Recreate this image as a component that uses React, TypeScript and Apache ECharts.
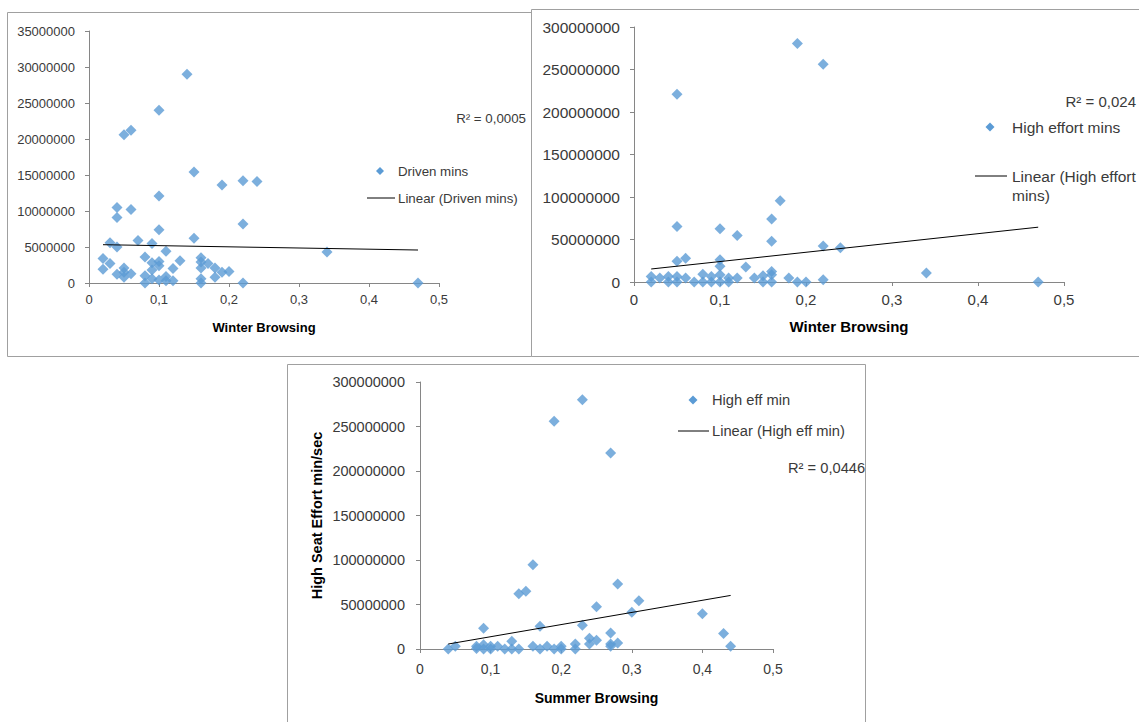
import React, { useEffect, useRef } from "react";
import * as echarts from "echarts";

// Panel 1: Winter Browsing vs Driven mins
const winterX1 = [0.14, 0.10, 0.05, 0.06, 0.15, 0.19, 0.22, 0.24, 0.10, 0.04, 0.06, 0.04, 0.22, 0.10, 0.15, 0.07, 0.03, 0.04, 0.09, 0.11, 0.34, 0.02, 0.02, 0.03, 0.05, 0.05, 0.04, 0.06, 0.08, 0.08, 0.08, 0.09, 0.09, 0.09, 0.10, 0.10, 0.10, 0.11, 0.11, 0.12, 0.12, 0.13, 0.16, 0.16, 0.16, 0.16, 0.16, 0.17, 0.18, 0.18, 0.19, 0.20, 0.22, 0.47, 0.05];
const drivenMins = [29.0, 24.0, 20.6, 21.2, 15.4, 13.6, 14.2, 14.1, 12.1, 10.5, 10.2, 9.1, 8.2, 7.4, 6.2, 5.9, 5.6, 5.0, 5.5, 4.4, 4.3, 3.4, 1.9, 2.7, 2.1, 0.8, 1.2, 1.3, 3.6, 0.0, 1.0, 2.8, 1.8, 0.6, 3.0, 2.4, 0.4, 0.9, 0.3, 2.0, 0.3, 3.1, 3.5, 2.9, 2.1, 0.6, 0.0, 2.7, 2.1, 0.8, 1.5, 1.6, 0.0, 0.0, 1.5].map((v) => v * 1e6);
const trend1X = [0.02, 0.47];
const trend1Y = [5.32e6, 4.58e6];

// Panel 2: Winter Browsing vs High effort mins
const winterX2 = [0.19, 0.22, 0.05, 0.17, 0.16, 0.05, 0.10, 0.12, 0.16, 0.22, 0.24, 0.06, 0.05, 0.10, 0.10, 0.13, 0.16, 0.16, 0.15, 0.34, 0.47, 0.02, 0.02, 0.03, 0.04, 0.04, 0.05, 0.05, 0.06, 0.07, 0.08, 0.08, 0.09, 0.09, 0.10, 0.10, 0.11, 0.11, 0.12, 0.14, 0.15, 0.16, 0.18, 0.19, 0.20, 0.22];
const highEffortMins = [280.5, 256.3, 221, 95.5, 74, 65.3, 62.6, 54.8, 48, 42.3, 40.3, 27.8, 24.3, 26.2, 18.4, 17.6, 12.5, 8.6, 7.4, 10.5, 0, 6.6, 0, 4.7, 6.6, 0, 6.6, 0, 4.7, 0, 9.0, 0, 6.6, 0, 8.6, 0, 4.7, 0, 4.7, 4.7, 0, 0, 4.7, 0, 0, 2.7].map((v) => v * 1e6);
const trend2X = [0.02, 0.47];
const trend2Y = [15.3e6, 64.5e6];

// Panel 3: Summer Browsing vs High eff min
const summerX3 = [0.23, 0.19, 0.27, 0.16, 0.28, 0.14, 0.15, 0.31, 0.25, 0.30, 0.40, 0.43, 0.44, 0.23, 0.17, 0.09, 0.27, 0.24, 0.25, 0.24, 0.27, 0.27, 0.28, 0.22, 0.22, 0.13, 0.04, 0.05, 0.08, 0.08, 0.09, 0.09, 0.10, 0.10, 0.11, 0.12, 0.13, 0.14, 0.16, 0.17, 0.18, 0.19, 0.20, 0.20];
const highEffMin = [280, 255.8, 220.2, 94.8, 73, 62.2, 64.8, 54.3, 47.6, 41.2, 39.5, 17.3, 3, 26.6, 25.5, 23.2, 18, 12, 9.7, 5.6, 5.6, 3, 6.7, 5.6, 0, 8.6, 0, 3, 0.7, 3, 4.9, 0, 3, 0, 3, 0, 0, 0, 3, 0, 3, 0, 3, 0].map((v) => v * 1e6);
const trend3X = [0.04, 0.44];
const trend3Y = [5.6e6, 60.2e6];

const xTicks = { min: 0, max: 0.5, interval: 0.1 };
const yMax1 = 35e6;
const yMax23 = 300e6;

const FONT = "'Liberation Sans', Arial, sans-serif";
const AXIS_COLOR = "#868686";
const TEXT_COLOR = "#3a3a3a";
const BLUE = "#5B9BD5";

const zip = (xs: number[], ys: number[]) => xs.map((x, i) => [x, ys[i]]);

const xFmt = (v: number) => (v === 0 ? "0" : v.toFixed(1).replace(".", ","));
const yFmt = (v: number) => String(Math.round(v));

function makeX(gridIndex: number, name: string, fs: number, margin: number, nameGap: number) {
  return {
    type: "value",
    gridIndex,
    ...xTicks,
    name,
    nameLocation: "middle",
    nameGap,
    nameTextStyle: { fontFamily: FONT, fontSize: fs, fontWeight: "bold", color: "#000" },
    axisLine: { show: true, lineStyle: { color: AXIS_COLOR, width: 1 } },
    axisTick: { show: true, length: 4, lineStyle: { color: AXIS_COLOR } },
    splitLine: { show: false },
    axisLabel: { formatter: xFmt, fontFamily: FONT, fontSize: fs, color: TEXT_COLOR, margin },
  };
}

function makeY(gridIndex: number, max: number, interval: number, fs: number, margin: number, extra: any = {}) {
  return {
    type: "value",
    gridIndex,
    min: 0,
    max,
    interval,
    axisLine: { show: true, lineStyle: { color: AXIS_COLOR, width: 1 } },
    axisTick: { show: true, length: 4, lineStyle: { color: AXIS_COLOR } },
    splitLine: { show: false },
    axisLabel: { formatter: yFmt, fontFamily: FONT, fontSize: fs, color: TEXT_COLOR, margin },
    ...extra,
  };
}

function scatter(name: string, idx: number, data: number[][]) {
  return {
    name,
    type: "scatter",
    xAxisIndex: idx,
    yAxisIndex: idx,
    symbol: "diamond",
    symbolSize: 11,
    itemStyle: { color: BLUE },
    data,
  };
}

function trend(name: string, idx: number, data: number[][]) {
  return {
    name,
    type: "line",
    xAxisIndex: idx,
    yAxisIndex: idx,
    showSymbol: false,
    symbol: "none",
    lineStyle: { color: "#000", width: 1 },
    data,
  };
}

function diamond(cx: number, cy: number, r: number) {
  return {
    type: "polygon",
    shape: { points: [[cx, cy - r], [cx + r, cy], [cx, cy + r], [cx - r, cy]] },
    style: { fill: BLUE },
  };
}

function txt(x: number, y: number, text: string, fs: number, align = "left") {
  return {
    type: "text",
    x,
    y,
    style: { text, fontFamily: FONT, fontSize: fs, fill: TEXT_COLOR, align, verticalAlign: "middle", lineHeight: 19 },
  };
}

function hline(x1: number, x2: number, y: number) {
  return { type: "line", shape: { x1, y1: y, x2, y2: y }, style: { stroke: "#000", lineWidth: 1 } };
}

function border(x: number, y: number, w: number, h: number) {
  return {
    type: "rect",
    shape: { x: x + 0.5, y: y + 0.5, width: w, height: h },
    style: { fill: "#fff", stroke: "#a0a0a0", lineWidth: 1 },
    z: -10,
  };
}

export default function App() {
  const ref = useRef<HTMLDivElement>(null);
  useEffect(() => {
    if (!ref.current) return;
    const chart = echarts.init(ref.current, null, { renderer: "svg" });
    chart.setOption({
      animation: false,
      backgroundColor: "#fff",
      grid: [
        { left: 89, top: 31, width: 350, height: 252 },
        { left: 634, top: 27, width: 430, height: 255 },
        { left: 420, top: 382, width: 353, height: 267 },
      ],
      xAxis: [
        makeX(0, "Winter Browsing", 13, 10, 38),
        makeX(1, "Winter Browsing", 15, 10, 37),
        makeX(2, "Summer Browsing", 14, 13, 42),
      ],
      yAxis: [
        makeY(0, yMax1, 5e6, 13, 14),
        makeY(1, yMax23, 50e6, 15.5, 14),
        makeY(2, yMax23, 50e6, 14.5, 15, {
          name: "High Seat Effort min/sec",
          nameLocation: "middle",
          nameRotate: 90,
          nameGap: 96,
          nameTextStyle: { fontFamily: FONT, fontSize: 14.5, fontWeight: "bold", color: "#000" },
        }),
      ],
      series: [
        trend("Linear (Driven mins)", 0, zip(trend1X, trend1Y)),
        scatter("Driven mins", 0, zip(winterX1, drivenMins)),
        trend("Linear (High effort mins)", 1, zip(trend2X, trend2Y)),
        scatter("High effort mins", 1, zip(winterX2, highEffortMins)),
        trend("Linear (High eff min)", 2, zip(trend3X, trend3Y)),
        scatter("High eff min", 2, zip(summerX3, highEffMin)),
      ],
      graphic: [
        border(7, 12, 524, 344),
        border(531, 9, 620, 347),
        border(287, 364, 578, 370),
        // panel 1 legend
        diamond(380, 171, 4),
        txt(398, 171, "Driven mins", 13.3),
        hline(367, 395, 198),
        txt(398, 198, "Linear (Driven mins)", 13.3),
        txt(526, 118, "R² = 0,0005", 13.3, "right"),
        // panel 2 legend
        diamond(990, 127, 4.5),
        txt(1012, 127, "High effort mins", 15.5),
        hline(975, 1007, 176),
        txt(1012, 176, "Linear (High effort", 15.5),
        txt(1012, 195, "mins)", 15.5),
        txt(1136, 101, "R² = 0,024", 15, "right"),
        // panel 3 legend
        diamond(693, 400, 4.5),
        txt(712, 400, "High eff min", 14.7),
        hline(678, 709, 431),
        txt(712, 431, "Linear (High eff min)", 14.7),
        txt(788, 468, "R² = 0,0446", 14.7),
      ],
    });
    return () => chart.dispose();
  }, []);
  return (
    <div
      ref={ref}
      style={{ position: "fixed", left: 0, top: 0, width: 1139, height: 722, background: "#fff" }}
    />
  );
}
